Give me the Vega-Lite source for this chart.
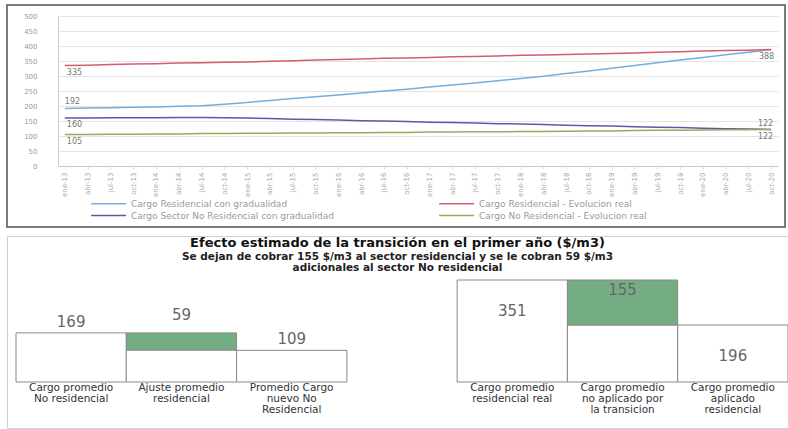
{
  "$schema": "https://vega.github.io/schema/vega-lite/v6.json",
  "background": "white",
  "padding": {"left": 6, "top": 4, "right": 0, "bottom": 0},
  "spacing": 7,
  "config": {"font": "DejaVu Sans", "view": {"stroke": null}},
  "vconcat": [
    {
      "width": 778,
      "height": 222,
      "view": {"stroke": "#7a7a7a", "strokeWidth": 2},
      "data": {
        "values": [
          {"t": "ene-13", "res_grad": 192, "res_real": 335, "nores_grad": 160, "nores_real": 105},
          {"t": "abr-13", "res_grad": 193, "res_real": 336, "nores_grad": 160, "nores_real": 105},
          {"t": "jul-13", "res_grad": 194, "res_real": 338, "nores_grad": 161, "nores_real": 106},
          {"t": "oct-13", "res_grad": 196, "res_real": 340, "nores_grad": 161, "nores_real": 106},
          {"t": "ene-14", "res_grad": 197, "res_real": 341, "nores_grad": 161, "nores_real": 107},
          {"t": "abr-14", "res_grad": 199, "res_real": 343, "nores_grad": 162, "nores_real": 107},
          {"t": "jul-14", "res_grad": 201, "res_real": 344, "nores_grad": 162, "nores_real": 108},
          {"t": "oct-14", "res_grad": 206, "res_real": 346, "nores_grad": 161, "nores_real": 108},
          {"t": "ene-15", "res_grad": 212, "res_real": 347, "nores_grad": 160, "nores_real": 109},
          {"t": "abr-15", "res_grad": 218, "res_real": 349, "nores_grad": 158, "nores_real": 109},
          {"t": "jul-15", "res_grad": 225, "res_real": 351, "nores_grad": 156, "nores_real": 110},
          {"t": "oct-15", "res_grad": 231, "res_real": 353, "nores_grad": 155, "nores_real": 110},
          {"t": "ene-16", "res_grad": 237, "res_real": 355, "nores_grad": 153, "nores_real": 111},
          {"t": "abr-16", "res_grad": 243, "res_real": 357, "nores_grad": 151, "nores_real": 111},
          {"t": "jul-16", "res_grad": 250, "res_real": 359, "nores_grad": 150, "nores_real": 112},
          {"t": "oct-16", "res_grad": 256, "res_real": 360, "nores_grad": 148, "nores_real": 112},
          {"t": "ene-17", "res_grad": 263, "res_real": 362, "nores_grad": 146, "nores_real": 113},
          {"t": "abr-17", "res_grad": 270, "res_real": 364, "nores_grad": 145, "nores_real": 113},
          {"t": "jul-17", "res_grad": 277, "res_real": 365, "nores_grad": 143, "nores_real": 114},
          {"t": "oct-17", "res_grad": 284, "res_real": 367, "nores_grad": 141, "nores_real": 114},
          {"t": "ene-18", "res_grad": 292, "res_real": 369, "nores_grad": 140, "nores_real": 115},
          {"t": "abr-18", "res_grad": 299, "res_real": 370, "nores_grad": 138, "nores_real": 115},
          {"t": "jul-18", "res_grad": 308, "res_real": 372, "nores_grad": 136, "nores_real": 116},
          {"t": "oct-18", "res_grad": 317, "res_real": 373, "nores_grad": 134, "nores_real": 117},
          {"t": "ene-19", "res_grad": 326, "res_real": 375, "nores_grad": 133, "nores_real": 117},
          {"t": "abr-19", "res_grad": 335, "res_real": 377, "nores_grad": 131, "nores_real": 118},
          {"t": "jul-19", "res_grad": 344, "res_real": 379, "nores_grad": 129, "nores_real": 119},
          {"t": "oct-19", "res_grad": 353, "res_real": 381, "nores_grad": 128, "nores_real": 119},
          {"t": "ene-20", "res_grad": 362, "res_real": 383, "nores_grad": 126, "nores_real": 120},
          {"t": "abr-20", "res_grad": 371, "res_real": 385, "nores_grad": 124, "nores_real": 121},
          {"t": "jul-20", "res_grad": 379, "res_real": 386, "nores_grad": 123, "nores_real": 121},
          {"t": "oct-20", "res_grad": 388, "res_real": 388, "nores_grad": 122, "nores_real": 122}
        ]
      },
      "transform": [
        {"fold": ["res_grad", "res_real", "nores_grad", "nores_real"], "as": ["serie", "valor"]}
      ],
      "encoding": {
        "x": {
          "field": "t",
          "type": "ordinal",
          "sort": null,
          "scale": {"type": "point", "range": [51, 771], "padding": 0.3},
          "axis": {
            "orient": "bottom",
            "offset": -61,
            "title": null,
            "labelAngle": -90,
            "labelFontSize": 7,
            "labelColor": "#aaaaaa",
            "labelPadding": 3,
            "domainColor": "#cccccc",
            "tickColor": "#dddddd",
            "tickSize": 3,
            "grid": false
          }
        },
        "y": {
          "field": "valor",
          "type": "quantitative",
          "scale": {"domain": [0, 500], "range": [161, 11], "nice": false},
          "axis": {
            "orient": "left",
            "offset": -51,
            "title": null,
            "values": [0, 50, 100, 150, 200, 250, 300, 350, 400, 450, 500],
            "grid": true,
            "gridColor": "#e4e4e4",
            "domainColor": "#cccccc",
            "ticks": false,
            "labelPadding": 21,
            "labelFontSize": 7,
            "labelColor": "#999999"
          }
        }
      },
      "layer": [
        {
          "mark": {"type": "line", "strokeWidth": 1.5},
          "encoding": {
            "color": {
              "field": "serie",
              "type": "nominal",
              "scale": {
                "domain": ["res_grad", "res_real", "nores_grad", "nores_real"],
                "range": ["#72aee0", "#d65c6c", "#5a5ba8", "#a3a65a"]
              },
              "legend": {
                "orient": "none",
                "direction": "horizontal",
                "legendX": 83,
                "legendY": 193,
                "columns": 2,
                "columnPadding": 102,
                "rowPadding": 1,
                "title": null,
                "symbolType": "M-1,0H7",
                "symbolSize": 76.5,
                "symbolStrokeWidth": 1.5,
                "labelOffset": 30,
                "labelFontSize": 9,
                "labelColor": "#9a9a9a",
                "labelLimit": 400,
                "labelExpr": "{'res_grad': 'Cargo Residencial con gradualidad', 'res_real': 'Cargo Residencial - Evolucion real', 'nores_grad': 'Cargo Sector No Residencial con gradualidad', 'nores_real': 'Cargo No Residencial - Evolucion real'}[datum.value]"
              }
            }
          }
        },
        {
          "transform": [{"filter": "datum.t == 'ene-13' && datum.serie != 'res_grad'"}],
          "mark": {"type": "text", "align": "left", "baseline": "top", "dx": 2, "dy": 3, "fontSize": 8, "color": "#777777"},
          "encoding": {"text": {"field": "valor", "type": "quantitative"}}
        },
        {
          "transform": [{"filter": "datum.t == 'ene-13' && datum.serie == 'res_grad'"}],
          "mark": {"type": "text", "align": "left", "baseline": "bottom", "dx": 0, "dy": -2, "fontSize": 8, "color": "#777777"},
          "encoding": {"text": {"field": "valor", "type": "quantitative"}}
        },
        {
          "transform": [{"filter": "datum.t == 'oct-20' && datum.serie == 'res_real'"}],
          "mark": {"type": "text", "align": "right", "baseline": "top", "dx": 3, "dy": 3, "fontSize": 8, "color": "#777777"},
          "encoding": {"text": {"field": "valor", "type": "quantitative"}}
        },
        {
          "transform": [{"filter": "datum.t == 'oct-20' && datum.serie == 'nores_grad'"}],
          "mark": {"type": "text", "align": "right", "baseline": "bottom", "dx": 2, "dy": -1, "fontSize": 8, "color": "#777777"},
          "encoding": {"text": {"field": "valor", "type": "quantitative"}}
        },
        {
          "transform": [{"filter": "datum.t == 'oct-20' && datum.serie == 'nores_real'"}],
          "mark": {"type": "text", "align": "right", "baseline": "top", "dx": 2, "dy": 4, "fontSize": 8, "color": "#777777"},
          "encoding": {"text": {"field": "valor", "type": "quantitative"}}
        }
      ]
    },
    {
      "width": 781,
      "height": 192,
      "view": {"stroke": "#cfcfcf", "strokeWidth": 1},
      "title": {
        "text": "Efecto estimado de la transición en el primer  año ($/m3)",
        "subtitle": [
          "Se dejan de cobrar 155 $/m3 al sector residencial y se le cobran 59 $/m3",
          "adicionales al sector  No residencial"
        ],
        "anchor": "middle",
        "offset": -37,
        "fontSize": 13,
        "fontWeight": "bold",
        "color": "#111111",
        "subtitleFontSize": 10.5,
        "subtitleFontWeight": "bold",
        "subtitleColor": "#222222",
        "subtitlePadding": 2,
        "subtitleLineHeight": 11
      },
      "data": {
        "values": [
          {"cargo": "Cargo promedio No residencial", "parte": "base", "orden": 1, "valor": 169},
          {"cargo": "Ajuste promedio residencial", "parte": "base", "orden": 1, "valor": 110},
          {"cargo": "Ajuste promedio residencial", "parte": "ajuste", "orden": 2, "valor": 59},
          {"cargo": "Promedio Cargo nuevo No Residencial", "parte": "base", "orden": 1, "valor": 109},
          {"cargo": "Cargo promedio residencial real", "parte": "base", "orden": 1, "valor": 351},
          {"cargo": "Cargo promedio no aplicado por la transicion", "parte": "base", "orden": 1, "valor": 196},
          {"cargo": "Cargo promedio no aplicado por la transicion", "parte": "ajuste", "orden": 2, "valor": 155},
          {"cargo": "Cargo promedio aplicado residencial", "parte": "base", "orden": 1, "valor": 196}
        ]
      },
      "transform": [
        {"stack": "valor", "groupby": ["cargo"], "sort": [{"field": "orden"}], "as": ["v0", "v1"]}
      ],
      "encoding": {
        "x": {
          "field": "cargo",
          "type": "nominal",
          "sort": null,
          "scale": {
            "domain": [
              "Cargo promedio No residencial",
              "Ajuste promedio residencial",
              "Promedio Cargo nuevo No Residencial",
              " ",
              "Cargo promedio residencial real",
              "Cargo promedio no aplicado por la transicion",
              "Cargo promedio aplicado residencial"
            ],
            "range": [9, 781],
            "paddingInner": 0,
            "paddingOuter": 0
          },
          "axis": {
            "orient": "bottom",
            "offset": -46,
            "title": null,
            "domain": false,
            "ticks": false,
            "labelAngle": 0,
            "labelBaseline": "top",
            "labelPadding": 0,
            "labelFontSize": 10.5,
            "labelLineHeight": 11,
            "labelColor": "#333333",
            "labelLimit": 0,
            "labelOverlap": false,
            "labelExpr": "split(trim(replace(datum.label, regexp('(.{1,16})( |$)', 'g'), '$1\\n')), '\\n')"
          }
        },
        "y": {
          "field": "v1",
          "type": "quantitative",
          "scale": {"domain": [0, 351], "range": [146, 44], "nice": false, "zero": true},
          "axis": null
        }
      },
      "layer": [
        {
          "mark": {"type": "bar", "stroke": "#8a8a8a", "strokeWidth": 1},
          "encoding": {
            "y": {"field": "v0", "type": "quantitative"},
            "y2": {"field": "v1"},
            "fill": {
              "field": "parte",
              "type": "nominal",
              "scale": {"domain": ["base", "ajuste"], "range": ["#ffffff", "#74ad84"]},
              "legend": null
            }
          }
        },
        {
          "transform": [{"filter": "datum.parte == 'base' && (datum.cargo == 'Cargo promedio No residencial' || datum.cargo == 'Promedio Cargo nuevo No Residencial')"}],
          "mark": {"type": "text", "baseline": "middle", "dy": -11, "fontSize": 15, "color": "#666666"},
          "encoding": {"text": {"field": "valor", "type": "quantitative"}}
        },
        {
          "transform": [{"filter": "datum.parte == 'ajuste' && datum.cargo == 'Ajuste promedio residencial'"}],
          "mark": {"type": "text", "baseline": "middle", "dy": -18, "fontSize": 15, "color": "#666666"},
          "encoding": {"text": {"field": "valor", "type": "quantitative"}}
        },
        {
          "transform": [{"filter": "datum.parte == 'ajuste' && datum.cargo == 'Cargo promedio no aplicado por la transicion'"}],
          "mark": {"type": "text", "baseline": "middle", "dy": 10, "fontSize": 15, "color": "#666666"},
          "encoding": {"text": {"field": "valor", "type": "quantitative"}}
        },
        {
          "transform": [{"filter": "datum.cargo == 'Cargo promedio residencial real' || datum.cargo == 'Cargo promedio aplicado residencial'"}],
          "mark": {"type": "text", "baseline": "middle", "dy": 31, "fontSize": 15, "color": "#666666"},
          "encoding": {"text": {"field": "valor", "type": "quantitative"}}
        }
      ]
    }
  ]
}
